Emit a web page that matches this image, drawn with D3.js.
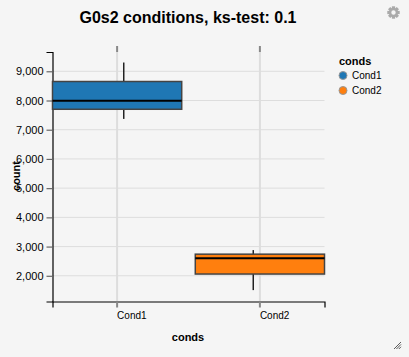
<!DOCTYPE html>
<html>
<head>
<meta charset="utf-8">
<script src="https://cdn.jsdelivr.net/npm/d3@7"></script>
<style>
  html, body { margin: 0; padding: 0; background: #f5f5f5; }
  svg { display: block; font-family: "Liberation Sans", sans-serif; }
  .axis .domain { stroke: #000; stroke-width: 1.2; }
  .axis text { fill: #000; }
</style>
</head>
<body>
<script>
  // values
  const conds = ["Cond1", "Cond2"];
  const q1 = [7700, 2060];
  const median = [7990, 2600];
  const q3 = [8650, 2740];
  const whiskerLow = [7370, 1510];
  const whiskerHigh = [9300, 2880];
  const colors = ["#1f77b4", "#ff7f0e"];
  const yTicks = [2000, 3000, 4000, 5000, 6000, 7000, 8000, 9000];
  const yDomain = [1120, 9660];

  const width = 409, height = 357;
  const plotLeft = 52.5, plotRight = 324.5, plotTop = 52, plotBottom = 301.5;

  const svg = d3.select("body").append("svg")
    .attr("width", width)
    .attr("height", height);

  const y = d3.scaleLinear().domain(yDomain).range([plotBottom, plotTop]);
  const x = d3.scaleBand().domain(conds).range([plotLeft, plotRight]).paddingInner(0.095);
  // whiskers sit on their own point scale, so they are off the box centres
  const xWhisker = d3.scalePoint().domain(conds).range([plotLeft, plotRight]).padding(0.55);
  const center = (d) => x(d) + x.bandwidth() / 2;

  // grid
  svg.append("g").selectAll("line").data(yTicks).join("line")
    .attr("x1", plotLeft).attr("x2", plotRight)
    .attr("y1", (d) => y(d)).attr("y2", (d) => y(d))
    .attr("stroke", "#ddd").attr("stroke-width", 1);

  svg.append("g").selectAll("line").data(conds).join("line")
    .attr("x1", center).attr("x2", center)
    .attr("y1", plotTop).attr("y2", plotBottom)
    .attr("stroke", "#ddd").attr("stroke-width", 2);

  // top ticks on the vertical grid
  svg.append("g").selectAll("line").data(conds).join("line")
    .attr("x1", center).attr("x2", center)
    .attr("y1", plotTop - 6).attr("y2", plotTop)
    .attr("stroke", "#888").attr("stroke-width", 2);

  // axes
  const yAxis = svg.append("g").attr("class", "axis")
    .attr("transform", `translate(${plotLeft},0)`)
    .call(d3.axisLeft(y).tickValues(yTicks).tickFormat(d3.format(",")).tickSize(6).tickPadding(3));
  yAxis.selectAll("text").attr("font-size", 11).attr("font-family", null);
  yAxis.selectAll(".tick line").attr("stroke", "#666").attr("stroke-width", 1.2);

  const xAxis = svg.append("g").attr("class", "axis")
    .attr("transform", `translate(0,${plotBottom})`)
    .call(d3.axisBottom(x).tickSize(6).tickPadding(3));
  xAxis.selectAll("text").attr("font-size", 10).attr("font-family", null)
    .attr("text-anchor", "start").attr("y", 10);
  xAxis.selectAll(".tick line").attr("stroke", "#888").attr("stroke-width", 2);

  // whiskers
  svg.append("g").selectAll("line").data(conds).join("line")
    .attr("x1", (d) => xWhisker(d)).attr("x2", (d) => xWhisker(d))
    .attr("y1", (d, i) => y(whiskerLow[i])).attr("y2", (d, i) => y(whiskerHigh[i]))
    .attr("stroke", "#222").attr("stroke-width", 1.5);

  // boxes
  svg.append("g").selectAll("rect").data(conds).join("rect")
    .attr("x", (d) => x(d))
    .attr("width", x.bandwidth())
    .attr("y", (d, i) => y(q3[i]))
    .attr("height", (d, i) => y(q1[i]) - y(q3[i]))
    .attr("fill", (d, i) => colors[i])
    .attr("stroke", "#444")
    .attr("stroke-width", 1.5);

  svg.append("g").selectAll("line").data(conds).join("line")
    .attr("x1", (d) => x(d)).attr("x2", (d) => x(d) + x.bandwidth())
    .attr("y1", (d, i) => y(median[i])).attr("y2", (d, i) => y(median[i]))
    .attr("stroke", "#000").attr("stroke-width", 2);

  // titles
  svg.append("text")
    .attr("x", 188).attr("y", 23)
    .attr("text-anchor", "middle")
    .attr("font-size", 16).attr("font-weight", "bold")
    .text("G0s2 conditions, ks-test: 0.1");

  svg.append("text")
    .attr("x", 188).attr("y", 341)
    .attr("text-anchor", "middle")
    .attr("font-size", 11).attr("font-weight", "bold")
    .text("conds");

  svg.append("text")
    .attr("transform", "translate(20,176) rotate(-90)")
    .attr("text-anchor", "middle")
    .attr("font-size", 11).attr("font-weight", "bold")
    .text("count");

  // legend
  const legend = svg.append("g").attr("transform", "translate(339,0)");
  legend.append("text")
    .attr("y", 65)
    .attr("font-size", 11).attr("font-weight", "bold")
    .text("conds");
  const row = legend.selectAll("g").data(conds).join("g")
    .attr("transform", (d, i) => `translate(0,${75.5 + i * 15})`);
  row.append("circle")
    .attr("cx", 4).attr("r", 4)
    .attr("fill", (d, i) => colors[i])
    .attr("stroke", "#999").attr("stroke-width", 1);
  row.append("text")
    .attr("x", 13).attr("y", 3.5)
    .attr("font-size", 10)
    .text((d) => d);

  // settings gear
  const gear = svg.append("g").attr("transform", "translate(393.5,12.5)");
  gear.selectAll("rect").data(d3.range(8)).join("rect")
    .attr("x", -1.6).attr("y", -6.2).attr("width", 3.2).attr("height", 3)
    .attr("fill", "#aaa")
    .attr("transform", (d) => `rotate(${d * 45})`);
  gear.append("circle").attr("r", 3.4)
    .attr("fill", "none").attr("stroke", "#aaa").attr("stroke-width", 2.4);

  // resize handle
  const handle = svg.append("g").attr("stroke", "#333").attr("stroke-width", 0.8);
  d3.range(3).forEach((i) => {
    handle.append("line")
      .attr("x1", 394 + i * 2.4).attr("y1", 349)
      .attr("x2", 401).attr("y2", 342 + i * 2.4);
  });
</script>
</body>
</html>
